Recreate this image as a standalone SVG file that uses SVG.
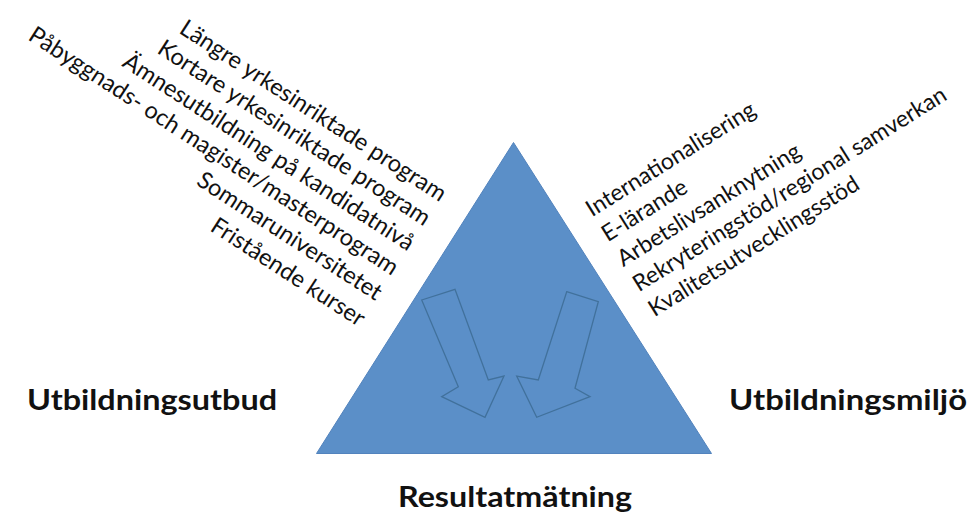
<svg xmlns="http://www.w3.org/2000/svg" width="975" height="513" viewBox="0 0 975 513">
  <style>
    .item { font-family: Lato, "Open Sans", "Liberation Sans", sans-serif; fill: #111; }
    .left { font-size: 23.5px; }
    .right { font-size: 23px; }
    .label { font-family: Lato, "Open Sans", "Liberation Sans", sans-serif; font-size: 29px; font-weight: bold; fill: #111; }
    .tri { fill: #5b8fc8; stroke: #5283bd; stroke-width: 1; }
    .blockarrow { fill: #5b8fc8; stroke: #41719c; stroke-width: 1.3; stroke-linejoin: miter; }
  </style>
  <rect width="975" height="513" fill="#ffffff"/>

  <g id="triangle">
    <polygon class="tri" points="513.5,142.5 316.5,453.5 711.5,453.5"/>
  </g>

  <g id="connectors">
    <polygon class="blockarrow" points="421.7,300 455,289.3 488.3,380 504,376 485,417.3 441.7,396.7 458.3,386.7"/>
    <polygon class="blockarrow" points="566.7,291.7 598.3,301.7 575,388.3 590,396.7 536.7,417.3 516.7,376 538.3,380"/>
  </g>

  <g id="utbildningsutbud-list" transform="rotate(33)">
    <text class="item left" x="479" y="-70" text-anchor="end">Längre yrkesinriktade program</text>
    <text class="item left" x="479" y="-41" text-anchor="end">Kortare yrkesinriktade program</text>
    <text class="item left" x="479" y="-11" text-anchor="end">Ämnesutbildning på kandidatnivå</text>
    <text class="item left" x="479" y="18" text-anchor="end">Påbyggnads- och magister/masterprogram</text>
    <text class="item left" x="479" y="48" text-anchor="end">Sommaruniversitetet</text>
    <text class="item left" x="479" y="79" text-anchor="end">Fristående kurser</text>
  </g>

  <g id="utbildningsmiljo-list" transform="rotate(-32)">
    <text class="item right" x="387" y="498">Internationalisering</text>
    <text class="item right" x="387" y="527.5">E-lärande</text>
    <text class="item right" x="387" y="557">Arbetslivsanknytning</text>
    <text class="item right" x="387" y="586.5">Rekryteringstöd/regional samverkan</text>
    <text class="item right" x="387" y="616">Kvalitetsutvecklingsstöd</text>
  </g>

  <g id="utbildningsutbud">
    <text class="label" x="27" y="410" textLength="250" lengthAdjust="spacingAndGlyphs">Utbildningsutbud</text>
  </g>
  <g id="utbildningsmiljo">
    <text class="label" x="729" y="410" textLength="238" lengthAdjust="spacingAndGlyphs">Utbildningsmiljö</text>
  </g>
  <g id="resultatmatning">
    <text class="label" x="398" y="507" textLength="234" lengthAdjust="spacingAndGlyphs">Resultatmätning</text>
  </g>
</svg>
